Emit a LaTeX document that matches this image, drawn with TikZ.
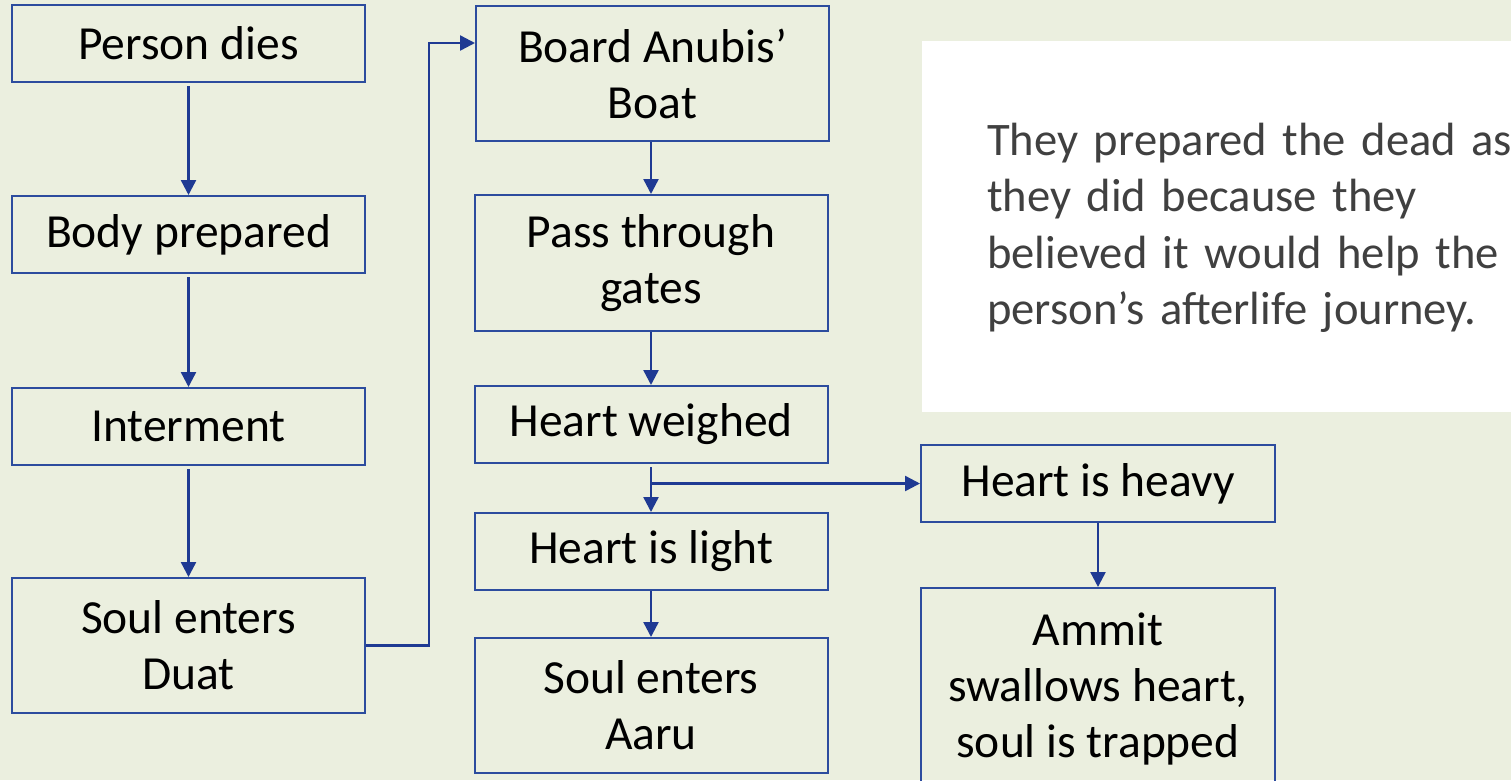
\documentclass[tikz,border=0pt]{standalone}
\usepackage{fontspec}
\setmainfont{Carlito}
\usetikzlibrary{arrows.meta,calc}
\definecolor{bg}{HTML}{EBEFDF}
\definecolor{boxline}{HTML}{2C4C9E}
\definecolor{arrline}{HTML}{1F3A93}
\definecolor{note}{HTML}{404040}
\begin{document}
\begin{tikzpicture}[x=1pt,y=-1pt,
  flow/.style={draw=boxline,line width=2pt,minimum width=353pt,inner sep=0pt,align=center,
    font=\fontsize{47.5}{56}\selectfont,text=black},
  short/.style={flow,minimum height=77pt},
  tall/.style={flow,minimum height=135pt},
  arr/.style={draw=arrline,line width=2.4pt,-{Triangle[length=15pt,width=15pt]}}]
\useasboundingbox[fill=bg] (0,0) rectangle (1511,780);
\fill[white] (922,41) rectangle (1515,412);
\node[inner sep=0pt,text width=640pt,align=left,anchor=base west,text=note,
  font=\fontsize{46.6}{56.5}\selectfont] (note) at (987,155)
  {They prepared the dead as\\they did because they\\believed it would help the\\person’s afterlife journey.};
\node[short] (dies) at (188.5,43.5) {Person dies};
\node[short] (body) at (188.5,234.5) {Body prepared};
\node[short] (inter) at (188.5,426.5) {Interment};
\node[tall] (duat) at (188.5,645.5) {Soul enters\\Duat};
\node[tall] (anubis) at (652.5,73.5) {Board Anubis’\\Boat};
\node[flow,minimum height=136pt] (gates) at (651,263) {Pass through\\gates};
\node[short] (weighed) at (651,424.5) {Heart weighed};
\node[short] (light) at (651,551.5) {Heart is light};
\node[tall] (aaru) at (651,705.5) {Soul enters\\Aaru};
\node[short,minimum width=354pt] (heavy) at (1098,483.5) {Heart is heavy};
\node[flow,minimum width=354pt,minimum height=202pt] (ammit) at (1098,689) {Ammit\\swallows heart,\\soul is trapped};
\draw[arr] ([yshift=-3pt]dies.south) -- (body.north);
\draw[arr] ([yshift=-3pt]body.south) -- (inter.north);
\draw[arr] ([yshift=-3pt]inter.south) -- (duat.north);
\draw[arr] (duat.east) -- ++(63,0) |- ([yshift=30.5pt]anubis.west);
\draw[arr] ([xshift=-1.5pt]anubis.south) -- (gates.north);
\draw[arr] (gates.south) -- (weighed.north);
\draw[arr] ([yshift=-3pt]weighed.south) -- (light.north);
\draw[arr] (weighed.south |- heavy.west) -- (heavy.west);
\draw[arr] (light.south) -- (aaru.north);
\draw[arr] (heavy.south) -- (ammit.north);
\end{tikzpicture}
\end{document}
